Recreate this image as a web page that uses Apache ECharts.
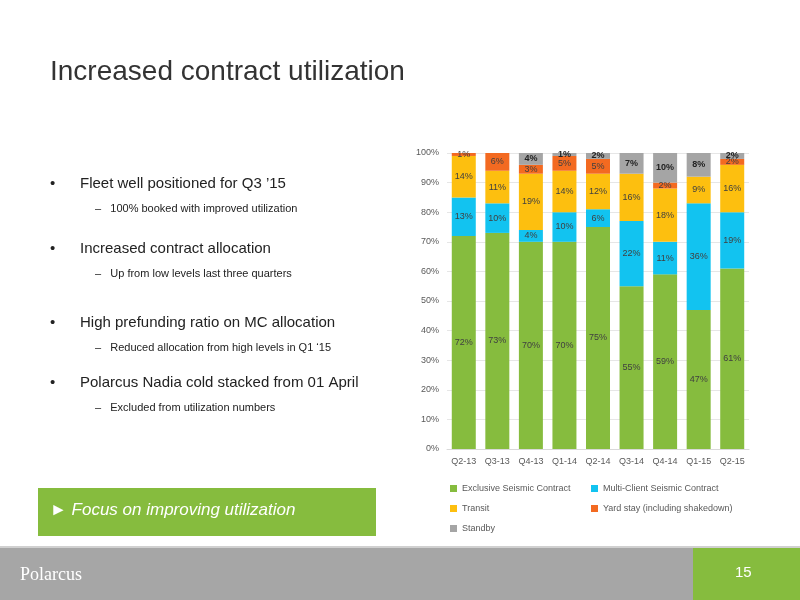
<!DOCTYPE html><html><head><meta charset="utf-8"><script src="https://cdn.jsdelivr.net/npm/echarts@6/dist/echarts.min.js"></script>
<style>body{margin:0}#c{width:800px;height:600px}</style></head><body><div id="c"></div><script>
const categories=['Q2-13','Q3-13','Q4-13','Q1-14','Q2-14','Q3-14','Q4-14','Q1-15','Q2-15'];
const exclusive=[72,73,70,70,75,55,59,47,61];
const multiClient=[13,10,4,10,6,22,11,36,19];
const transit=[14,11,19,14,12,16,18,9,16];
const yard=[1,6,3,5,5,0,2,0,2];
const standby=[0,0,4,1,2,7,10,8,2];
const yTicks=[0,10,20,30,40,50,60,70,80,90,100];
const names=['Exclusive Seismic Contract','Multi-Client Seismic Contract','Transit','Yard stay (including shakedown)','Standby'];
const colors=['#86bc3e','#12c3f0','#fdbf0f','#f36a21','#a5a5a5'];
const data=[exclusive,multiClient,transit,yard,standby];
const ch=echarts.init(document.getElementById('c'));
const bullets=[
 [50,185,'•',15],[80,185,'Fleet well positioned for Q3 ’15',15],
 [95,210,'–   100% booked with improved utilization',11],
 [50,250,'•',15],[80,250,'Increased contract allocation',15],
 [95,275,'–   Up from low levels last three quarters',11],
 [50,324,'•',15],[80,324,'High prefunding ratio on MC allocation',15],
 [95,349,'–   Reduced allocation from high levels in Q1 ‘15',11],
 [50,384,'•',15],[80,384,'Polarcus Nadia cold stacked from 01 April',15],
 [95,409,'–   Excluded from utilization numbers',11]];
const g=[
 {type:'text',left:50,top:58,style:{text:'Increased contract utilization',font:'28px Liberation Sans, Arial',fill:'#333'}},
 {type:'rect',shape:{x:38,y:488,width:338,height:48},style:{fill:'#86bc3e'}},
 {type:'text',left:50,top:502,style:{text:'► Focus on improving utilization',font:'italic 17px Liberation Sans, Arial',fill:'#fff'}},
 {type:'rect',shape:{x:0,y:546,width:800,height:3},style:{fill:'#d0d0d0'}},
 {type:'rect',shape:{x:0,y:548,width:800,height:52},style:{fill:'#a6a6a6'}},
 {type:'rect',shape:{x:693,y:548,width:107,height:52},style:{fill:'#86bc3e'}},
 {type:'text',left:20,top:566,style:{text:'Polarcus',font:'18px Liberation Serif, serif',fill:'#fff'}},
 {type:'text',left:735,top:565,style:{text:'15',font:'15px Liberation Sans, Arial',fill:'#fff'}}
];
bullets.forEach(b=>g.push({type:'text',left:b[0],top:b[1]-b[3]*0.6,style:{text:b[2],font:b[3]+'px Liberation Sans, Arial',fill:'#222'}}));
const lg={orient:'vertical',top:479,itemWidth:7,itemHeight:7,itemGap:11,icon:'rect',textStyle:{fontSize:9,color:'#595959'}};
ch.setOption({
 animation:false,
 graphic:g,
 grid:{left:447,top:153,width:302,height:296},
 xAxis:{type:'category',data:categories,axisTick:{show:false},axisLine:{lineStyle:{color:'#d9d9d9'}},axisLabel:{color:'#595959',fontSize:9,margin:8}},
 yAxis:{type:'value',min:0,max:100,interval:10,axisLabel:{color:'#595959',fontSize:9,formatter:v=>yTicks.includes(v)?v+'%':''},splitLine:{lineStyle:{color:'#e6e6e6'}}},
 legend:[Object.assign({left:445,data:[names[0],names[2],names[4]]},lg),Object.assign({left:586,data:[names[1],names[3]]},lg)],
 series:data.map((d,i)=>({name:names[i],type:'bar',stack:'s',barWidth:24,data:d,itemStyle:{color:colors[i]},
  label:{show:true,fontSize:9,color:i==4?'#222':'#404040',fontWeight:i==4?'bold':'normal',formatter:p=>p.value?p.value+'%':''}}))
});
</script></body></html>
